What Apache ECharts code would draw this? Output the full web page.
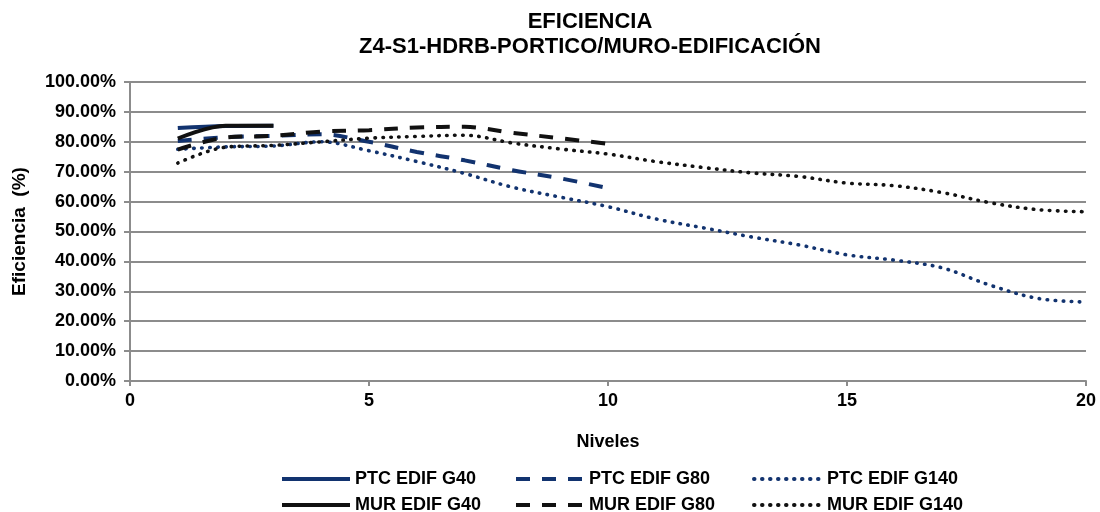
<!DOCTYPE html>
<html>
<head>
<meta charset="utf-8">
<script src="https://cdn.jsdelivr.net/npm/echarts@6/dist/echarts.min.js"></script>
<style>
  html, body { margin: 0; padding: 0; background: #fff; }
  #chart { width: 1100px; height: 512px; }
</style>
</head>
<body>
<div id="chart"></div>
<script>
// Number of levels (x) for each family of buildings
const levelsG40 = [1, 2, 3];
const levelsG80 = [1, 2, 3, 4, 5, 6, 7, 8, 9, 10];
const levelsG140 = [1, 2, 3, 4, 5, 6, 7, 8, 9, 10, 11, 12, 13, 14, 15, 16, 17, 18, 19, 20];

// Efficiency values (%)
const ptcG40 = [84.6, 85.3, 85.4];
const ptcG80 = [80.3, 81.5, 82.0, 82.5, 80.0, 76.6, 73.8, 70.5, 67.8, 64.5];
const ptcG140 = [77.5, 78.3, 78.6, 80.0, 77.0, 73.4, 69.4, 64.8, 61.5, 58.3, 54.2, 51.2, 48.2, 45.5, 42.2, 40.4, 37.8, 32.0, 27.6, 26.4];
const murG40 = [81.1, 85.4, 85.4];
const murG80 = [77.4, 81.4, 82.0, 83.4, 83.9, 84.8, 85.0, 83.0, 81.2, 79.3];
const murG140 = [72.9, 78.2, 78.8, 80.0, 81.2, 81.8, 82.2, 79.6, 77.6, 75.9, 73.4, 71.4, 69.6, 68.4, 66.2, 65.3, 63.0, 59.6, 57.3, 56.6];

// Axis ticks
const xTicks = { min: 0, max: 20, interval: 5 };
const yTicks = { min: 0, max: 100, interval: 10 };

const NAVY = '#12336F';
const BLACK = '#111111';
const FONT = '"Liberation Sans", Arial, sans-serif';

const pairs = (xs, ys) => xs.map((x, i) => [x, ys[i]]);

function lineStyleFor(color, kind) {
  const style = { color: color, width: 4, cap: 'butt' };
  if (kind === 'dash') { style.type = [14, 12]; }
  if (kind === 'dot') { style.type = [0.5, 7.5]; style.cap = 'round'; style.width = 3.6; }
  return style;
}

function lineSeries(name, xs, ys, color, kind) {
  return {
    name: name,
    type: 'line',
    data: pairs(xs, ys),
    smooth: 0.35,
    symbol: 'none',
    lineStyle: lineStyleFor(color, kind),
    itemStyle: { color: color },
    emphasis: { disabled: true },
    animation: false
  };
}

// One legend entry per slot, laid out in two rows of three
function legendItem(name, left, top) {
  return {
    data: [name],
    left: left,
    top: top,
    itemWidth: 68,
    itemHeight: 14,
    itemStyle: { opacity: 0 },
    lineStyle: { width: 4 },
    textStyle: { fontFamily: FONT, fontWeight: 'bold', fontSize: 18, color: '#000' }
  };
}

const legendCols = [275, 509, 747];
const legendRows = [465, 491];

const chart = echarts.init(document.getElementById('chart'), null, { renderer: 'canvas' });

chart.setOption({
  backgroundColor: '#ffffff',
  animation: false,
  title: {
    text: 'EFICIENCIA\nZ4-S1-HDRB-PORTICO/MURO-EDIFICACIÓN',
    left: 585,
    textAlign: 'center',
    top: 4,
    textStyle: { fontFamily: FONT, fontWeight: 'bold', fontSize: 22, lineHeight: 25, color: '#000' }
  },
  legend: [
    legendItem('PTC EDIF G40', legendCols[0], legendRows[0]),
    legendItem('PTC EDIF G80', legendCols[1], legendRows[0]),
    legendItem('PTC EDIF G140', legendCols[2], legendRows[0]),
    legendItem('MUR EDIF G40', legendCols[0], legendRows[1]),
    legendItem('MUR EDIF G80', legendCols[1], legendRows[1]),
    legendItem('MUR EDIF G140', legendCols[2], legendRows[1])
  ],
  grid: { left: 130, right: 14, top: 82, bottom: 131, containLabel: false },
  xAxis: {
    type: 'value',
    min: xTicks.min,
    max: xTicks.max,
    interval: xTicks.interval,
    name: 'Niveles',
    nameLocation: 'middle',
    nameGap: 52,
    nameTextStyle: { fontFamily: FONT, fontWeight: 'bold', fontSize: 18, color: '#000' },
    axisLine: { lineStyle: { color: '#8c8c8c', width: 2 } },
    axisTick: { show: true, length: 5, lineStyle: { color: '#8c8c8c', width: 2 } },
    axisLabel: { fontFamily: FONT, fontWeight: 'bold', fontSize: 18, color: '#000', margin: 11 },
    splitLine: { show: false }
  },
  yAxis: {
    type: 'value',
    min: yTicks.min,
    max: yTicks.max,
    interval: yTicks.interval,
    name: 'Eficiencia  (%)',
    nameLocation: 'middle',
    nameGap: 101,
    nameRotate: 90,
    nameTextStyle: { fontFamily: FONT, fontWeight: 'bold', fontSize: 19, color: '#000' },
    axisLine: { show: true, lineStyle: { color: '#8c8c8c', width: 2 } },
    axisTick: { show: true, length: 6, lineStyle: { color: '#8c8c8c', width: 2 } },
    axisLabel: {
      fontFamily: FONT, fontWeight: 'bold', fontSize: 18, color: '#000', margin: 14,
      formatter: v => v.toFixed(2) + '%'
    },
    splitLine: { show: true, lineStyle: { color: '#8c8c8c', width: 2 } }
  },
  series: [
    lineSeries('PTC EDIF G40', levelsG40, ptcG40, NAVY, 'solid'),
    lineSeries('PTC EDIF G80', levelsG80, ptcG80, NAVY, 'dash'),
    lineSeries('PTC EDIF G140', levelsG140, ptcG140, NAVY, 'dot'),
    lineSeries('MUR EDIF G40', levelsG40, murG40, BLACK, 'solid'),
    lineSeries('MUR EDIF G80', levelsG80, murG80, BLACK, 'dash'),
    lineSeries('MUR EDIF G140', levelsG140, murG140, BLACK, 'dot')
  ]
});
</script>
</body>
</html>
